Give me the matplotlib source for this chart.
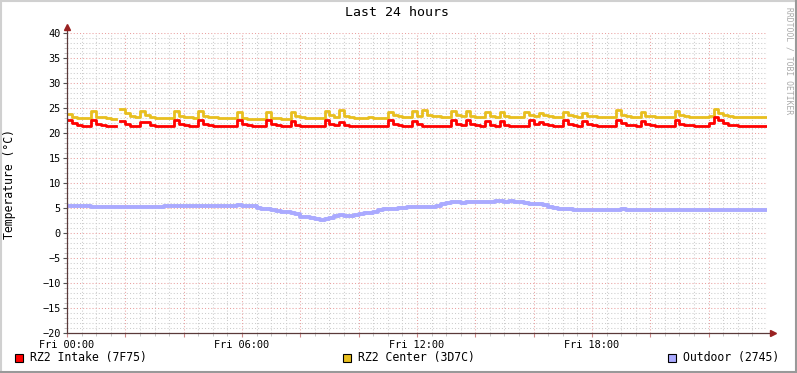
import matplotlib
matplotlib.use("Agg")
import matplotlib.pyplot as plt
from matplotlib.lines import Line2D
from matplotlib.patches import Rectangle
import numpy as np

nan = np.nan

# 10-minute samples, one row = 2 hours
intake = np.array([
    22.6, 22.0, 21.6, 21.5, 21.4, 22.6, 21.8, 21.6, 21.5, 21.5, nan, 22.5,
    21.8, 21.5, 21.4, 22.2, 22.2, 21.6, 21.5, 21.5, 21.5, 21.5, 22.6, 21.8,
    21.6, 21.5, 21.5, 22.6, 21.8, 21.6, 21.5, 21.5, 21.4, 21.5, 21.5, 22.6,
    21.8, 21.6, 21.5, 21.5, 21.5, 22.6, 21.8, 21.6, 21.5, 21.5, 22.4, 21.7,
    21.5, 21.5, 21.4, 21.5, 21.5, 22.6, 21.8, 21.7, 22.2, 21.6, 21.5, 21.5,
    21.5, 21.5, 21.5, 21.5, 21.5, 21.5, 22.6, 21.8, 21.6, 21.5, 21.5, 22.4,
    21.8, 21.5, 21.5, 21.5, 21.5, 21.5, 21.5, 22.6, 21.8, 21.6, 22.6, 21.8,
    21.6, 21.5, 22.5, 21.7, 21.5, 22.4, 21.7, 21.5, 21.5, 21.5, 21.5, 22.6,
    21.8, 22.3, 21.8, 21.6, 21.5, 21.5, 22.6, 21.9, 21.6, 21.5, 22.5, 21.8,
    21.6, 21.5, 21.5, 21.5, 21.5, 22.6, 22.1, 21.7, 21.6, 21.5, 22.5, 21.8,
    21.6, 21.5, 21.4, 21.5, 21.5, 22.6, 21.9, 21.7, 21.6, 21.5, 21.5, 21.5,
    22.0, 23.2, 22.6, 22.0, 21.7, 21.6, 21.5, 21.5, 21.5, 21.5, 21.5, 21.5,
])

center = np.array([
    23.8, 23.2, 23.1, 23.1, 23.1, 24.4, 23.3, 23.2, 23.0, 22.9, nan, 24.8,
    24.0, 23.5, 23.3, 24.5, 23.6, 23.2, 23.1, 23.0, 23.0, 23.1, 24.5, 23.5,
    23.3, 23.2, 23.1, 24.5, 23.5, 23.3, 23.2, 23.1, 23.1, 23.1, 23.0, 24.2,
    23.1, 22.9, 22.9, 22.9, 22.8, 24.3, 23.1, 23.0, 22.9, 22.8, 24.3, 23.4,
    23.2, 23.1, 23.1, 23.1, 23.1, 24.4, 23.6, 23.3, 24.6, 23.5, 23.2, 23.1,
    23.1, 23.1, 23.2, 23.1, 23.0, 23.1, 24.3, 23.6, 23.4, 23.3, 23.2, 24.4,
    23.4, 24.7, 23.6, 23.5, 23.4, 23.3, 23.3, 24.5, 23.6, 23.4, 24.4, 23.5,
    23.3, 23.3, 24.3, 23.5, 23.3, 24.2, 23.5, 23.3, 23.2, 23.2, 24.3, 23.6,
    23.4, 24.1, 23.6, 23.4, 23.3, 23.3, 24.2, 23.6, 23.4, 23.3, 24.0, 23.5,
    23.4, 23.3, 23.2, 23.2, 23.2, 24.7, 23.6, 23.4, 23.3, 23.3, 24.2, 23.5,
    23.4, 23.3, 23.3, 23.3, 23.3, 24.4, 23.6, 23.4, 23.3, 23.3, 23.3, 23.3,
    23.4, 24.8, 24.0, 23.6, 23.4, 23.3, 23.3, 23.2, 23.2, 23.2, 23.2, 23.2,
])

outdoor = np.array([
    5.4, 5.4, 5.4, 5.5, 5.4, 5.3, 5.3, 5.3, 5.2, 5.3, 5.3, 5.2,
    5.3, 5.2, 5.2, 5.3, 5.2, 5.2, 5.3, 5.2, 5.4, 5.4, 5.4, 5.4,
    5.4, 5.4, 5.4, 5.4, 5.4, 5.4, 5.4, 5.4, 5.4, 5.4, 5.5, 5.6,
    5.5, 5.4, 5.4, 5.1, 4.8, 4.8, 4.7, 4.5, 4.3, 4.3, 4.1, 3.8,
    3.3, 3.2, 3.1, 2.8, 2.6, 2.9, 3.0, 3.4, 3.6, 3.5, 3.5, 3.6,
    3.9, 4.1, 4.1, 4.3, 4.6, 4.8, 4.8, 4.9, 5.0, 5.1, 5.3, 5.3,
    5.3, 5.2, 5.3, 5.3, 5.4, 5.9, 6.1, 6.2, 6.2, 6.1, 6.2, 6.3,
    6.3, 6.3, 6.2, 6.3, 6.4, 6.4, 6.3, 6.4, 6.3, 6.2, 6.0, 5.9,
    5.8, 5.8, 5.6, 5.3, 5.0, 4.9, 4.8, 4.8, 4.7, 4.7, 4.7, 4.7,
    4.7, 4.7, 4.7, 4.7, 4.7, 4.7, 4.8, 4.7, 4.7, 4.6, 4.6, 4.7,
    4.6, 4.6, 4.7, 4.6, 4.6, 4.6, 4.7, 4.6, 4.6, 4.7, 4.6, 4.6,
    4.7, 4.7, 4.7, 4.7, 4.6, 4.7, 4.7, 4.6, 4.6, 4.7, 4.7, 4.7,
])

series_names = ["RZ2 Intake (7F75)", "RZ2 Center (3D7C)", "Outdoor (2745)"]
series_colors = ["#ff0000", "#e8bf1f", "#aaaaff"]
x_labels = ["Fri 00:00", "Fri 06:00", "Fri 12:00", "Fri 18:00"]

plt.rcParams['font.family'] = 'DejaVu Sans Mono'

W, H = 797, 373
fig = plt.figure(figsize=(W / 100, H / 100), dpi=100)
fig.patch.set_facecolor('white')

ax = fig.add_axes([67 / W, 40 / H, 700 / W, 300 / H])
ax.set_facecolor('white')

hours = np.arange(len(intake) + 1) / 6.0
dotted = (0, (1, 2))

# grid
for h in np.arange(0, 24.01, 0.5):
    if h % 2 == 0:
        continue
    ax.axvline(h, color='#cccccc', lw=0.75, ls=dotted, zorder=0)
for v in range(-20, 41):
    if v % 5 == 0:
        continue
    ax.axhline(v, color='#cccccc', lw=0.75, ls=dotted, zorder=0)
for h in np.arange(2, 24.01, 2):
    ax.axvline(h, color='#eaa0a0', lw=0.75, ls=dotted, zorder=0)
for v in range(-15, 41, 5):
    ax.axhline(v, color='#eaa0a0', lw=0.75, ls=dotted, zorder=0)

ax.step(hours, np.append(outdoor, outdoor[-1]), where='post',
        color=series_colors[2], lw=2.8, zorder=2)
ax.step(hours, np.append(center, center[-1]), where='post',
        color=series_colors[1], lw=2.0, zorder=3)
ax.step(hours, np.append(intake, intake[-1]), where='post',
        color=series_colors[0], lw=2.0, zorder=4)

ax.set_xlim(0, 24)
ax.set_ylim(-20, 40)

for s in ax.spines.values():
    s.set_visible(False)

# axis lines with arrows
axis_col = '#5a3a3a'
ax.plot([0, 0], [0, 1.02], color=axis_col, lw=0.9, transform=ax.transAxes, clip_on=False, zorder=5)
ax.plot([0, 1.008], [0, 0], color=axis_col, lw=0.9, transform=ax.transAxes, clip_on=False, zorder=5)
ax.plot([0], [1.02], marker='^', ms=4, color='#992222', transform=ax.transAxes, clip_on=False, zorder=6)
ax.plot([1.008], [0], marker='>', ms=4, color='#992222', transform=ax.transAxes, clip_on=False, zorder=6)

ax.set_yticks(range(-20, 41, 5))
ax.set_yticks(range(-20, 41), minor=True)
ax.set_xticks(np.arange(0, 24, 2))
ax.set_xticks(np.arange(0, 24, 0.5), minor=True)
ax.set_xticklabels([x_labels[i // 3] if i % 3 == 0 else '' for i in range(12)])
ax.tick_params(axis='both', which='major', length=3, width=0.8, color='#cc8888',
               labelsize=7.4, pad=1.5, labelcolor='black')
ax.tick_params(axis='y', which='major', color='#555555')
ax.tick_params(axis='both', which='minor', length=2, width=0.6, color='#bbbbbb')
ax.tick_params(axis='x', which='major', pad=2)

fig.text(397 / W, 1 - 13 / H, "Last 24 hours", ha='center', va='center', fontsize=9.5)
fig.text(10 / W, 1 - 184 / H, "Temperature (°C)", rotation=90, ha='center', va='center', fontsize=8.3)
fig.text(789 / W, 1 - 61 / H, "RRDTOOL / TOBI OETIKER", rotation=270, ha='center', va='center',
         fontsize=5.8, color='#aaaaaa')

# legend
legend_x = [15, 343, 668]
for lx, name, col in zip(legend_x, series_names, series_colors):
    fig.patches.append(Rectangle((lx / W, 1 - 362 / H), 8 / W, 8 / H, transform=fig.transFigure,
                                 facecolor=col, edgecolor='black', lw=0.8))
    fig.text((lx + 15) / W, 1 - 358 / H, name, ha='left', va='center', fontsize=8.3)

# outer frame
fig.lines.append(Line2D([0.5 / W, 0.5 / W], [0, 1], transform=fig.transFigure, color='#d0d0d0', lw=1.5))
fig.lines.append(Line2D([0, 1], [1 - 0.5 / H, 1 - 0.5 / H], transform=fig.transFigure, color='#d0d0d0', lw=1.5))
fig.lines.append(Line2D([1 - 1 / W, 1 - 1 / W], [0, 1], transform=fig.transFigure, color='#999999', lw=1.5))
fig.lines.append(Line2D([0, 1], [1 / H, 1 / H], transform=fig.transFigure, color='#999999', lw=1.5))

fig.savefig("out.png", dpi=100)
